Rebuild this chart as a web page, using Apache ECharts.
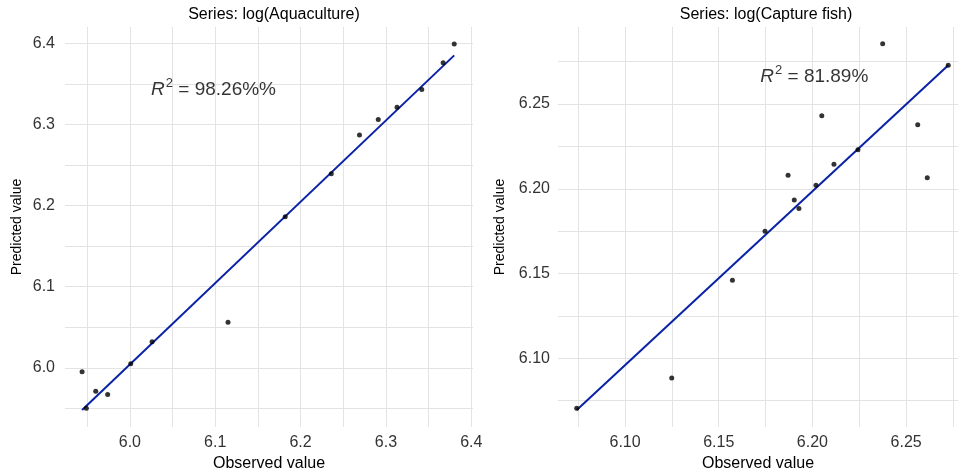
<!DOCTYPE html>
<html>
<head>
<meta charset="utf-8">
<script src="https://cdn.jsdelivr.net/npm/echarts@6/dist/echarts.min.js"></script>
<style>
  html, body { margin: 0; padding: 0; background: #fff; }
  #main { width: 960px; height: 475px; }
</style>
</head>
<body>
<div id="main"></div>
<script>
// observed vs predicted, log(Aquaculture)
const aquaObserved = [6.380, 6.367, 6.342, 6.313, 6.291, 6.269, 6.236, 6.182, 6.115, 6.026, 6.001, 5.944, 5.960, 5.974, 5.949];
const aquaPredicted = [6.399, 6.376, 6.343, 6.321, 6.306, 6.287, 6.239, 6.186, 6.056, 6.032, 6.005, 5.995, 5.971, 5.967, 5.950];
const aquaFit = [[5.944, 5.948], [6.380, 6.385]];

// observed vs predicted, log(Capture fish)
const fishObserved = [6.2375, 6.2725, 6.205, 6.2562, 6.2243, 6.2115, 6.187, 6.2613, 6.2019, 6.1903, 6.1928, 6.1747, 6.1573, 6.1249, 6.0742];
const fishPredicted = [6.2855, 6.2728, 6.243, 6.2377, 6.223, 6.2144, 6.2079, 6.2065, 6.202, 6.1933, 6.1884, 6.1749, 6.146, 6.0884, 6.0705];
const fishFit = [[6.0742, 6.0695], [6.2725, 6.2728]];

const titles = ["Series: log(Aquaculture)", "Series: log(Capture fish)"];
const r2Text = ["98.26%%", "81.89%"];
const r2Pos = [[6.098, 6.345], [6.201, 6.267]];

const aquaXTicks = ["6.0", "6.1", "6.2", "6.3", "6.4"];
const aquaYTicks = ["6.0", "6.1", "6.2", "6.3", "6.4"];
const fishXTicks = ["6.10", "6.15", "6.20", "6.25"];
const fishYTicks = ["6.10", "6.15", "6.20", "6.25"];

const chart = echarts.init(document.getElementById("main"));

const gridColor = "#e3e3e3";
const font = "'Liberation Sans', Arial, sans-serif";

function pick(list) {
  return (v) => list.find((s) => Math.abs(+s - v) < 1e-6) || "";
}

function tickLabel(list, margin) {
  return {
    color: "#333", fontSize: 16, fontFamily: font,
    showMinLabel: false, showMaxLabel: false,
    formatter: pick(list), margin: margin
  };
}

function valueAxis(extra) {
  return Object.assign({
    type: "value",
    scale: true,
    nameLocation: "middle",
    nameTextStyle: { color: "#000", fontSize: 16, fontFamily: font },
    axisLine: { show: false },
    axisTick: { show: false },
    splitLine: { show: true, showMinLine: false, showMaxLine: false, lineStyle: { color: gridColor, width: 1 } },
    minorTick: { show: false, splitNumber: 2 },
    minorSplitLine: { show: true, lineStyle: { color: gridColor, width: 1 } }
  }, extra);
}

function pairs(xs, ys) {
  return xs.map((x, i) => [x, ys[i]]);
}

function r2Label(i) {
  return {
    show: true,
    position: "inside",
    formatter: "{r|R}{s|2}{t| = " + r2Text[i] + "}",
    rich: {
      r: { fontSize: 19, fontStyle: "italic", color: "#000", fontFamily: font, lineHeight: 22, verticalAlign: "bottom" },
      s: { fontSize: 13, color: "#000", fontFamily: font, lineHeight: 22, verticalAlign: "top", padding: [0, 0, 0, 1] },
      t: { fontSize: 19, color: "#000", fontFamily: font, lineHeight: 22, verticalAlign: "bottom" }
    }
  };
}

let option = {
  animation: false,
  backgroundColor: "#fff",
  title: [
    { text: titles[0], left: 269, top: 2, textAlign: "center",
      textStyle: { fontSize: 16, fontWeight: "normal", color: "#000", fontFamily: font } },
    { text: titles[1], left: 761, top: 2, textAlign: "center",
      textStyle: { fontSize: 16, fontWeight: "normal", color: "#000", fontFamily: font } }
  ],
  grid: [
    { left: 65, right: 487, top: 27, bottom: 48, outerBoundsMode: "none" },
    { left: 558, right: 2, top: 27, bottom: 48, outerBoundsMode: "none" }
  ],
  xAxis: [
    valueAxis({ gridIndex: 0, min: 5.924, max: 6.402, splitNumber: 5, name: "Observed value", nameGap: 29,
      axisLabel: tickLabel(aquaXTicks, 8) }),
    valueAxis({ gridIndex: 1, min: 6.0642, max: 6.2777, splitNumber: 4, name: "Observed value", nameGap: 29,
      axisLabel: tickLabel(fishXTicks, 8) }),
  ],
  yAxis: [
    valueAxis({ gridIndex: 0, min: 5.927, max: 6.420, splitNumber: 5, name: "Predicted value", nameGap: 41,
      nameTextStyle: { color: "#000", fontSize: 14, fontFamily: font },
      axisLabel: tickLabel(aquaYTicks, 10) }),
    valueAxis({ gridIndex: 1, min: 6.0595, max: 6.2954, splitNumber: 4, name: "Predicted value", nameGap: 51,
      nameTextStyle: { color: "#000", fontSize: 14, fontFamily: font },
      axisLabel: tickLabel(fishYTicks, 8) })
  ],
  series: [
    { type: "line", xAxisIndex: 0, yAxisIndex: 0, data: aquaFit, showSymbol: false, symbol: "none",
      lineStyle: { color: "#0a22a6", width: 2 }, z: 3 },
    { type: "scatter", xAxisIndex: 0, yAxisIndex: 0, data: pairs(aquaObserved, aquaPredicted),
      symbolSize: 5, itemStyle: { color: "#000" }, z: 4 },
    { type: "scatter", xAxisIndex: 0, yAxisIndex: 0, data: [r2Pos[0]], symbolSize: 0, label: r2Label(0), silent: true },
    { type: "line", xAxisIndex: 1, yAxisIndex: 1, data: fishFit, showSymbol: false, symbol: "none",
      lineStyle: { color: "#0a22a6", width: 2 }, z: 3 },
    { type: "scatter", xAxisIndex: 1, yAxisIndex: 1, data: pairs(fishObserved, fishPredicted),
      symbolSize: 5, itemStyle: { color: "#000" }, z: 4 },
    { type: "scatter", xAxisIndex: 1, yAxisIndex: 1, data: [r2Pos[1]], symbolSize: 0, label: r2Label(1), silent: true }
  ]
};

chart.setOption(option);
</script>
</body>
</html>
